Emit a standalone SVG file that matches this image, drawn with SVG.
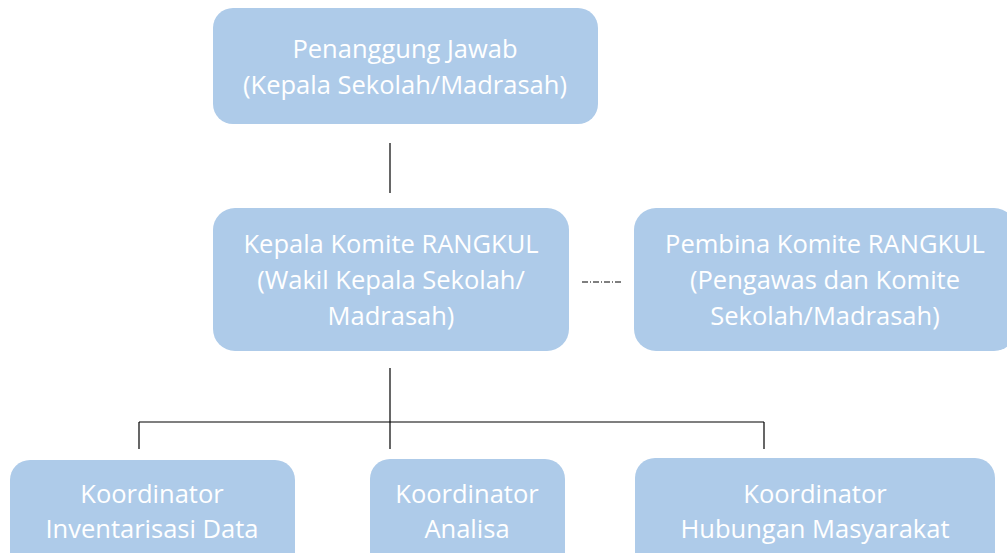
<svg xmlns="http://www.w3.org/2000/svg" width="1007" height="553" viewBox="0 0 1007 553">
<style>
.box{fill:#AECBE9;}
.t{font-family:"Open Sans","Liberation Sans",sans-serif;font-size:25.5px;fill:#FFFFFF;text-anchor:middle;}
.ln{stroke:#000;stroke-width:1.2;fill:none;}
</style>
<rect width="1007" height="553" fill="#FFFFFF"/>
<g id="connectors">
<line class="ln" x1="390" y1="143" x2="390" y2="193"/>
<line class="ln" x1="390" y1="368" x2="390" y2="449"/>
<line class="ln" x1="139" y1="422" x2="764" y2="422"/>
<line class="ln" x1="139" y1="422" x2="139" y2="449"/>
<line class="ln" x1="764" y1="422" x2="764" y2="449"/>
<line class="ln" x1="582" y1="282" x2="622" y2="282" stroke-dasharray="6 2 1 2" stroke-width="1"/>
</g>
<g id="penanggung">
<rect class="box" x="213" y="8" width="385" height="116" rx="20"/>
<text class="t" x="405" y="58">Penanggung Jawab</text>
<text class="t" x="405" y="94">(Kepala Sekolah/Madrasah)</text>
</g>
<g id="kepala">
<rect class="box" x="213" y="208" width="356" height="143" rx="22"/>
<text class="t" x="391" y="253">Kepala Komite RANGKUL</text>
<text class="t" x="391" y="289">(Wakil Kepala Sekolah/</text>
<text class="t" x="391" y="325">Madrasah)</text>
</g>
<g id="pembina">
<rect class="box" x="634" y="208" width="382" height="143" rx="22"/>
<text class="t" x="825" y="253">Pembina Komite RANGKUL</text>
<text class="t" x="825" y="289">(Pengawas dan Komite</text>
<text class="t" x="825" y="325">Sekolah/Madrasah)</text>
</g>
<g id="inventarisasi">
<rect class="box" x="10" y="460" width="285" height="120" rx="20"/>
<text class="t" x="152" y="503">Koordinator</text>
<text class="t" x="152" y="538">Inventarisasi Data</text>
</g>
<g id="analisa">
<rect class="box" x="370" y="459" width="195" height="120" rx="20"/>
<text class="t" x="467" y="503">Koordinator</text>
<text class="t" x="467" y="538">Analisa</text>
</g>
<g id="humas">
<rect class="box" x="635" y="458" width="360" height="120" rx="20"/>
<text class="t" x="815" y="503">Koordinator</text>
<text class="t" x="815" y="538">Hubungan Masyarakat</text>
</g>
</svg>
